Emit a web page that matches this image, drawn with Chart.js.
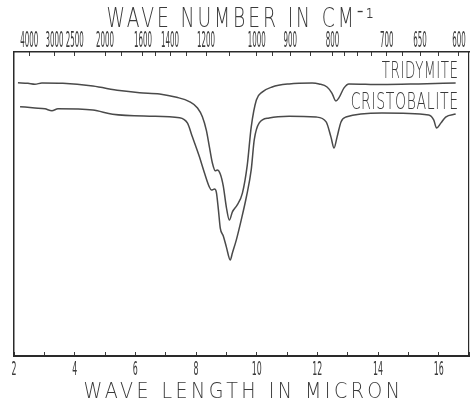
<!DOCTYPE html>
<html>
<head>
<meta charset="utf-8">
<script src="https://cdn.jsdelivr.net/npm/chart.js@4.4.1/dist/chart.umd.min.js"></script>
<style>
  body { margin: 0; background: #fff; }
  #wrap { width: 471px; height: 403px; position: relative; }
</style>
</head>
<body>
<div id="wrap"><canvas id="irChart"></canvas></div>
<script>
// wave length (micron) and transmission (%)
const tridymiteX = [2.13, 2.46, 2.69, 2.92, 3.61, 4.60, 5.48, 6.14, 6.80, 7.36, 7.78, 8.05, 8.21, 8.34, 8.44, 8.54, 8.64, 8.70, 8.80, 8.90, 9.00, 9.10, 9.20, 9.36, 9.53, 9.69, 9.82, 9.99, 10.18, 10.51, 11.07, 11.83, 12.06, 12.32, 12.48, 12.61, 12.71, 12.88, 13.04, 14.13, 15.34, 16.56];
const tridymiteY = [89.9, 89.7, 89.4, 89.8, 89.7, 88.8, 87.3, 86.6, 86.2, 85.1, 83.7, 81.6, 78.7, 74.3, 68.9, 63.5, 60.9, 61.2, 59.9, 55.9, 49.0, 44.7, 47.4, 49.7, 53.6, 62.8, 75.3, 84.2, 86.8, 88.5, 89.5, 89.8, 89.5, 88.5, 86.5, 83.9, 84.9, 88.2, 89.5, 89.3, 89.5, 89.8];

const cristobaliteX = [2.20, 2.69, 3.02, 3.25, 3.45, 4.60, 5.25, 6.47, 7.46, 7.72, 7.88, 8.11, 8.28, 8.44, 8.51, 8.61, 8.67, 8.74, 8.80, 8.90, 9.00, 9.13, 9.20, 9.33, 9.49, 9.66, 9.82, 9.92, 10.08, 10.41, 11.07, 11.96, 12.29, 12.45, 12.55, 12.65, 12.78, 12.94, 14.13, 15.67, 15.84, 15.93, 16.07, 16.23, 16.56];
const cristobaliteY = [82.0, 81.6, 81.3, 80.7, 81.3, 80.9, 79.5, 78.9, 78.4, 76.6, 72.1, 65.6, 60.2, 55.6, 54.6, 54.9, 53.9, 48.0, 42.1, 39.5, 35.9, 31.6, 33.9, 38.2, 44.7, 52.3, 61.2, 71.1, 76.6, 78.3, 78.9, 78.6, 77.0, 72.0, 68.4, 72.0, 77.0, 78.6, 79.9, 79.3, 77.6, 75.0, 76.6, 78.6, 79.6];

const seriesNames = ['TRIDYMITE', 'CRISTOBALITE'];

// tick labels
const micronLabels = [2, 4, 6, 8, 10, 12, 14, 16];
const waveLabels = [4000, 3000, 2500, 2000, 1600, 1400, 1200, 1000, 900, 800, 700, 650, 600];
const waveTicks = [4000, 3000, 2500, 2000, 1800, 1600, 1500, 1400, 1300, 1200, 1100, 1000, 950, 900, 850, 800, 775, 750, 725, 700, 675, 650, 625, 600];

const INK = '#3a3a3a';
const LETTER = '"DejaVu Sans Condensed", "DejaVu Sans", sans-serif';

function pairs(xs, ys) {
  return xs.map((x, i) => ({ x: x, y: ys[i] }));
}

// draws text squeezed horizontally so it spans `width` px (the old lettering is very narrow)
function squeezeText(ctx, text, x, y, font, width, align, spacing) {
  ctx.save();
  ctx.font = font;
  ctx.letterSpacing = spacing || '0px';
  ctx.textAlign = align;
  ctx.textBaseline = 'alphabetic';
  const w = ctx.measureText(text).width;
  ctx.translate(x, y);
  ctx.scale(width / w, 1);
  ctx.fillText(text, 0, 0);
  ctx.restore();
}

const lettering = {
  id: 'lettering',
  afterDraw(chart) {
    const ctx = chart.ctx;
    const a = chart.chartArea;
    const xb = chart.scales.x;
    const xt = chart.scales.x2;
    const mid = (a.left + a.right) / 2;
    ctx.fillStyle = INK;

    micronLabels.forEach(function(v) {
      const s = String(v);
      squeezeText(ctx, s, xb.getPixelForValue(v), a.bottom + 19, '19px ' + LETTER, 5 * s.length, 'center');
    });
    waveLabels.forEach(function(wn) {
      const s = String(wn);
      squeezeText(ctx, s, xt.getPixelForValue(10000 / wn), a.top - 5, '22px ' + LETTER, 4.5 * s.length, 'center');
    });

    squeezeText(ctx, 'WAVE NUMBER IN CM\u207B\u00B9', mid, 27, '200 26px "DejaVu Sans", sans-serif', 270, 'center', '4px');
    squeezeText(ctx, 'WAVE LENGTH IN MICRON', mid + 2, a.bottom + 42, '200 22px "DejaVu Sans", sans-serif', 320, 'center', '4px');

    const widths = [77, 108];
    chart.data.datasets.forEach(function(ds, i) {
      const pts = chart.getDatasetMeta(i).data;
      const last = pts[pts.length - 1];
      squeezeText(ctx, seriesNames[i], last.x + 3, last.y - 5, '200 23px "DejaVu Sans", sans-serif', widths[i], 'right', '1px');
    });
  }
};

const tickGrid = {
  drawOnChartArea: false,
  drawTicks: true,
  tickLength: -4,
  color: INK,
  lineWidth: 1
};

new Chart(document.getElementById('irChart'), {
  type: 'line',
  data: {
    datasets: [
      {
        label: seriesNames[0],
        data: pairs(tridymiteX, tridymiteY),
        borderColor: '#4a4a4a',
        borderWidth: 1.5,
        pointRadius: 0,
        cubicInterpolationMode: 'monotone',
        fill: false
      },
      {
        label: seriesNames[1],
        data: pairs(cristobaliteX, cristobaliteY),
        borderColor: '#4a4a4a',
        borderWidth: 1.5,
        pointRadius: 0,
        cubicInterpolationMode: 'monotone',
        fill: false
      }
    ]
  },
  options: {
    responsive: true,
    maintainAspectRatio: false,
    animation: false,
    layout: { padding: { left: 14, right: 2, top: 0, bottom: 0 } },
    plugins: {
      legend: { display: false },
      tooltip: { enabled: false }
    },
    scales: {
      x: {
        type: 'linear',
        position: 'bottom',
        min: 2,
        max: 17,
        ticks: { stepSize: 1, display: false },
        grid: tickGrid,
        border: { display: true, color: '#2a2a2a', width: 2 },
        afterFit: function(scale) { scale.height = 47; }
      },
      x2: {
        type: 'linear',
        position: 'top',
        min: 2,
        max: 17,
        ticks: { display: false },
        afterBuildTicks: function(scale) {
          scale.ticks = waveTicks.map(function(wn) { return { value: 10000 / wn }; });
        },
        grid: tickGrid,
        border: { display: true, color: '#2a2a2a', width: 1.5 },
        afterFit: function(scale) { scale.height = 52; }
      },
      y: {
        min: 0,
        max: 100,
        ticks: { display: false },
        grid: { display: false },
        border: { display: true, color: '#2a2a2a', width: 1.5 },
        afterFit: function(scale) { scale.width = 0; }
      },
      y2: {
        position: 'right',
        min: 0,
        max: 100,
        ticks: { display: false },
        grid: { display: false },
        border: { display: true, color: '#2a2a2a', width: 1.2 },
        afterFit: function(scale) { scale.width = 0; }
      }
    }
  },
  plugins: [lettering]
});
</script>
</body>
</html>
